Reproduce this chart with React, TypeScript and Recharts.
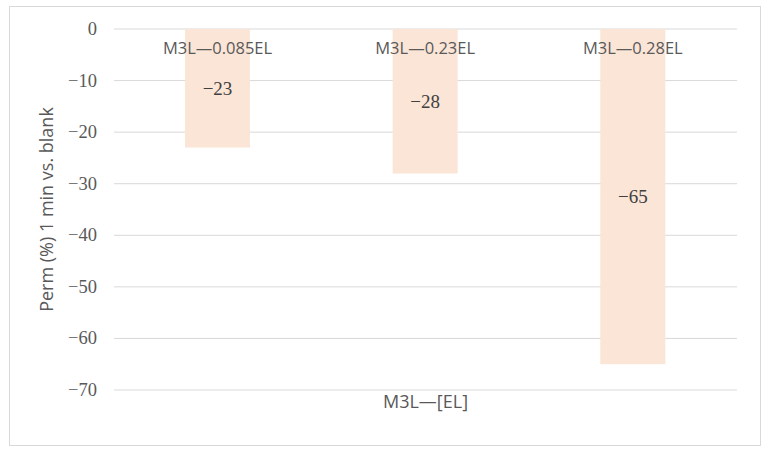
import React from 'react'
import {
  Bar,
  BarChart,
  CartesianGrid,
  Label,
  LabelList,
  XAxis,
  YAxis,
} from 'recharts'

const categories = ['M3L\u20140.085EL', 'M3L\u20140.23EL', 'M3L\u20140.28EL']
const permValues = [-23, -28, -65]
const yTicks = [0, -10, -20, -30, -40, -50, -60, -70]

const data = categories.map((name, i) => ({ name, perm: permValues[i] }))

const minus = (v: number) => String(v).replace('-', '\u2212')

const sansFont = '"Open Sans", sans-serif'
const serifFont = '"Liberation Serif", serif'

const YTick = ({ x, y, payload }: any) => (
  <text
    x={x}
    y={y}
    dy={6}
    textAnchor="end"
    fill="#595959"
    fontSize={18.5}
    fontFamily={serifFont}
  >
    {minus(payload.value)}
  </text>
)

export default function App() {
  return (
    <div
      style={{
        position: 'absolute',
        left: 0,
        top: 0,
        width: 768,
        height: 457,
        background: '#fff',
      }}
    >
      <div
        style={{
          position: 'absolute',
          left: 9,
          top: 6,
          width: 750,
          height: 438,
          border: '1px solid #d9d9d9',
        }}
      />
      <BarChart
        width={768}
        height={457}
        data={data}
        margin={{ top: 29, right: 31, left: 34, bottom: 27 }}
        style={{ position: 'absolute', left: 0, top: 0 }}
      >
        <CartesianGrid vertical={false} stroke="#d9d9d9" />
        <XAxis
          dataKey="name"
          tick={false}
          axisLine={false}
          tickLine={false}
          height={40}
        >
          <Label
            value={'M3L\u2014[EL]'}
            position="insideTop"
            offset={5}
            fill="#595959"
            fontSize={18}
            style={{ fontFamily: sansFont }}
          />
        </XAxis>
        <YAxis
          domain={[-70, 0]}
          ticks={yTicks}
          interval={0}
          width={80}
          axisLine={false}
          tickLine={false}
          tickMargin={11}
          tick={<YTick />}
        >
          <Label
            value="Perm (%) 1 min vs. blank"
            position="center"
            angle={-90}
            dx={-27}
            fill="#595959"
            fontSize={18}
            style={{ fontFamily: sansFont }}
          />
        </YAxis>
        <Bar dataKey="perm" fill="#fbe5d6" barSize={65} isAnimationActive={false}>
          <LabelList
            dataKey="name"
            position="insideBottom"
            offset={13}
            fill="#595959"
            fontSize={16.5}
            style={{ fontFamily: sansFont }}
          />
          <LabelList
            dataKey="perm"
            position="center"
            formatter={(v: any) => minus(v)}
            fill="#404040"
            fontSize={19}
            style={{ fontFamily: serifFont }}
          />
        </Bar>
      </BarChart>
    </div>
  )
}
